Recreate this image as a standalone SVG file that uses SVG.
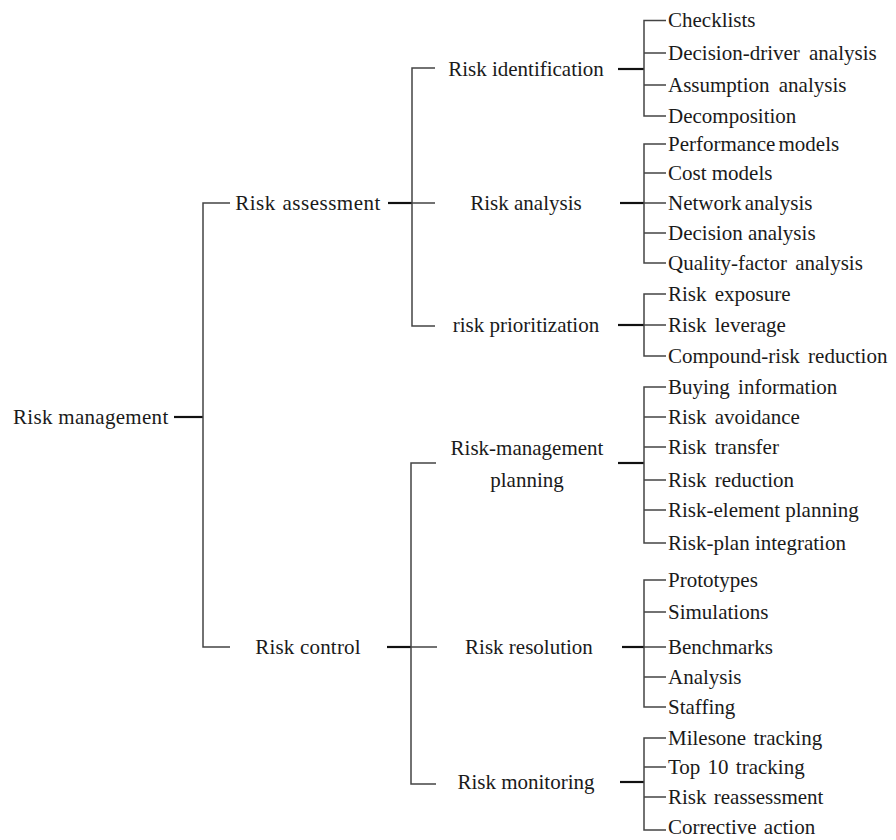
<svg xmlns="http://www.w3.org/2000/svg" width="896" height="840" viewBox="0 0 896 840" font-family="'Liberation Serif', 'DejaVu Serif', serif">
  <style>
    text { font-family: 'Liberation Serif', 'DejaVu Serif', serif; font-size: 21px; fill: #1a1a1a; }
    .mid { text-anchor: middle; }
    .ln { fill: none; stroke: #444; stroke-width: 1.5; }
    .stub { fill: none; stroke: #111; stroke-width: 2.2; }
  </style>
  <rect width="896" height="840" fill="#ffffff"/>

  <g id="connectors">
    <!-- root -->
    <path class="stub" d="M174 417H203"/>
    <path class="ln" d="M230 203H203V647H230"/>
    <!-- risk assessment -->
    <path class="stub" d="M388 203H412"/>
    <path class="ln" d="M435 68H412V326H435M412 203H435"/>
    <!-- risk control -->
    <path class="stub" d="M387 647H411"/>
    <path class="ln" d="M436 463H411V784H436M411 647H437"/>
    <!-- risk identification -->
    <path class="stub" d="M618 69H644"/>
    <path class="ln" d="M666 20.5H644V116H666M644 53H666M644 85H666"/>
    <!-- risk analysis -->
    <path class="stub" d="M620 203H644"/>
    <path class="ln" d="M666 144H644V263H666M644 173H666M644 203H666M644 233H666"/>
    <!-- risk prioritization -->
    <path class="stub" d="M618 325H644"/>
    <path class="ln" d="M666 294H644V356H666M644 325H666"/>
    <!-- risk-management planning -->
    <path class="stub" d="M618 463H644"/>
    <path class="ln" d="M666 387H644V543H666M644 417H666M644 447H666M644 480H666M644 510H666"/>
    <!-- risk resolution -->
    <path class="stub" d="M622 647H644"/>
    <path class="ln" d="M666 580H644V707H666M644 612H666M644 647H666M644 677H666"/>
    <!-- risk monitoring -->
    <path class="stub" d="M620 782H644"/>
    <path class="ln" d="M666 738H644V830H666M644 767H666M644 797H666"/>
  </g>

  <g id="risk-management"><text x="13" y="424" letter-spacing="0.3">Risk management</text></g>

  <g id="risk-assessment"><text class="mid" x="308" y="210" letter-spacing="0.5" word-spacing="1">Risk assessment</text></g>
  <g id="risk-control"><text class="mid" x="308" y="654" letter-spacing="0.2">Risk control</text></g>

  <g id="risk-identification"><text class="mid" x="526" y="76">Risk identification</text></g>
  <g id="risk-analysis"><text class="mid" x="526" y="210">Risk analysis</text></g>
  <g id="risk-prioritization"><text class="mid" x="526" y="332">risk prioritization</text></g>
  <g id="risk-management-planning">
    <text class="mid" x="527" y="455">Risk-management</text>
    <text class="mid" x="527" y="487">planning</text>
  </g>
  <g id="risk-resolution"><text class="mid" x="529" y="654">Risk resolution</text></g>
  <g id="risk-monitoring"><text class="mid" x="526" y="789">Risk monitoring</text></g>

  <g id="leaves-identification">
    <text x="668" y="27">Checklists</text>
    <text x="668" y="60" word-spacing="4">Decision-driver analysis</text>
    <text x="668" y="92" word-spacing="4">Assumption analysis</text>
    <text x="668" y="123">Decomposition</text>
  </g>
  <g id="leaves-analysis">
    <text x="668" y="151" word-spacing="-2">Performance models</text>
    <text x="668" y="180">Cost models</text>
    <text x="668" y="210" word-spacing="-2">Network analysis</text>
    <text x="668" y="240">Decision analysis</text>
    <text x="668" y="270" word-spacing="3">Quality-factor analysis</text>
  </g>
  <g id="leaves-prioritization">
    <text x="668" y="301" word-spacing="3">Risk exposure</text>
    <text x="668" y="332" word-spacing="3">Risk leverage</text>
    <text x="668" y="363" word-spacing="3">Compound-risk reduction</text>
  </g>
  <g id="leaves-planning">
    <text x="668" y="394" word-spacing="3">Buying information</text>
    <text x="668" y="424" word-spacing="3">Risk avoidance</text>
    <text x="668" y="454" word-spacing="3">Risk transfer</text>
    <text x="668" y="487" word-spacing="3">Risk reduction</text>
    <text x="668" y="517">Risk-element planning</text>
    <text x="668" y="550">Risk-plan integration</text>
  </g>
  <g id="leaves-resolution">
    <text x="668" y="587">Prototypes</text>
    <text x="668" y="619">Simulations</text>
    <text x="668" y="654">Benchmarks</text>
    <text x="668" y="684">Analysis</text>
    <text x="668" y="714">Staffing</text>
  </g>
  <g id="leaves-monitoring">
    <text x="668" y="745" word-spacing="2">Milesone tracking</text>
    <text x="668" y="774" word-spacing="2">Top 10 tracking</text>
    <text x="668" y="804" word-spacing="2">Risk reassessment</text>
    <text x="668" y="834" word-spacing="2">Corrective action</text>
  </g>
</svg>
